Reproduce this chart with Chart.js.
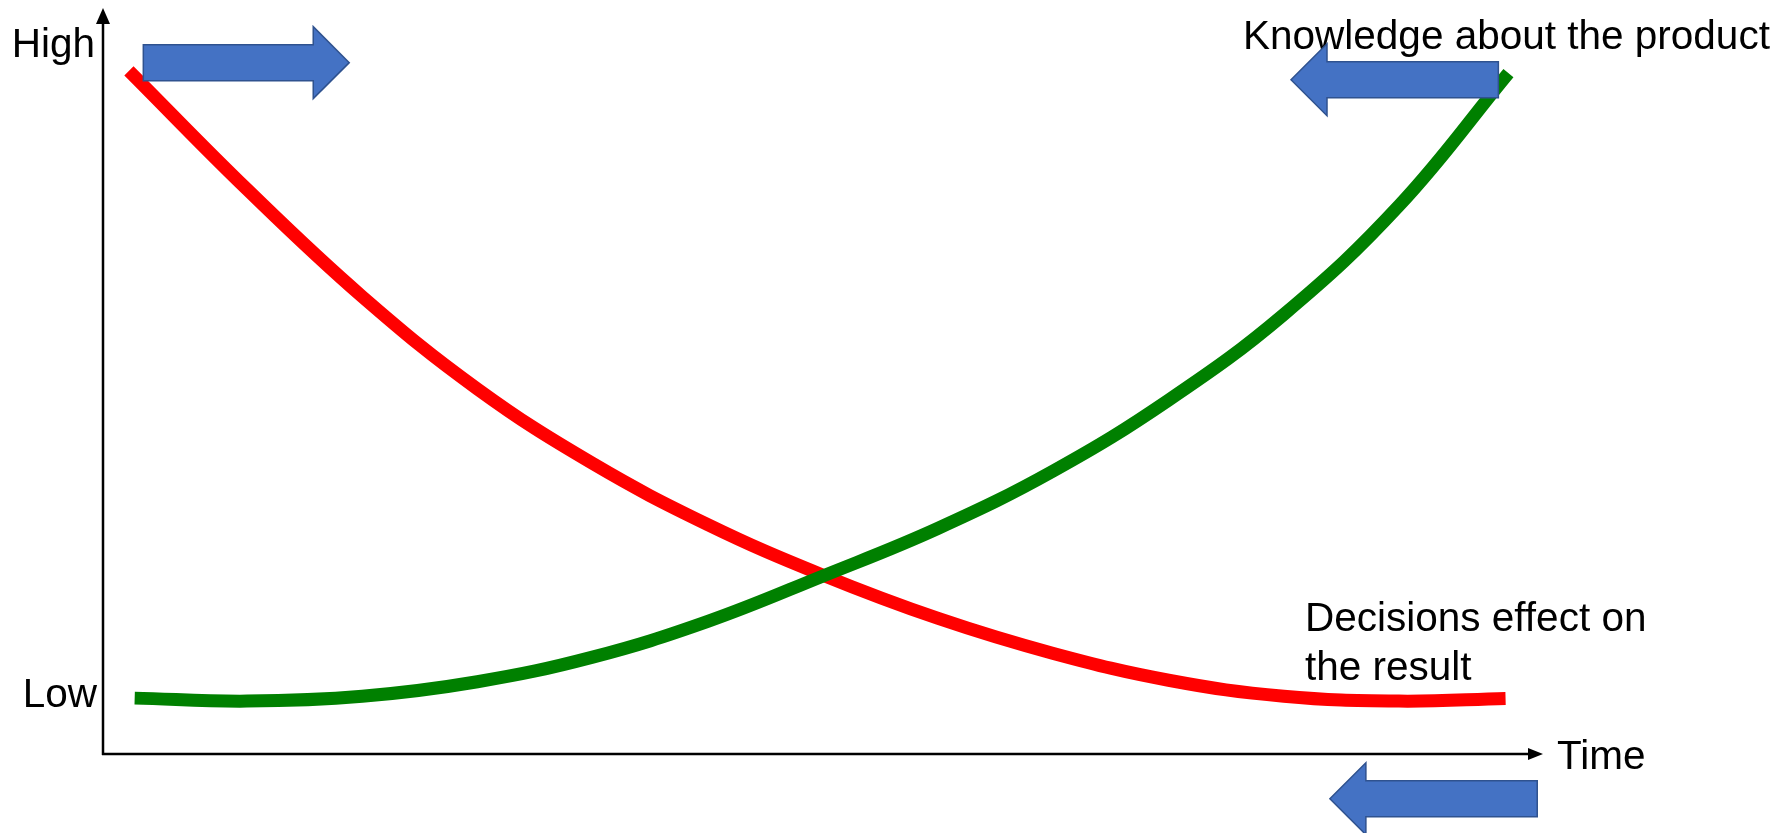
<!DOCTYPE html>
<html>
<head>
<meta charset="utf-8">
<script src="https://cdn.jsdelivr.net/npm/chart.js@4"></script>
<style>
    html, body { margin: 0; padding: 0; background: #fff; }
    #wrap { width: 1788px; height: 833px; position: relative; }
</style>
</head>
<body>
<div id="wrap"><canvas id="chart"></canvas></div>
<script>
// Knowledge about the product (green)
const knowledgeTime  = [2.2, 10, 18, 26, 34, 42, 50, 58, 66, 74, 82, 90, 97.6];
const knowledgeLevel = [7.5, 7.1, 7.75, 9.7, 13.0, 17.8, 23.9, 30.3, 38.0, 47.5, 59.0, 73.6, 91.4];

// Decisions effect on the result (red)
const decisionTime  = [1.8, 10, 18, 26, 34, 42, 50, 58, 66, 74, 82, 90, 97.4];
const decisionLevel = [91.7, 75.8, 61.4, 49.0, 39.0, 30.8, 24.0, 18.2, 13.5, 9.9, 7.75, 7.1, 7.45];

// Block arrows: tail x, tip x, level (in axis units)
const arrows = [
    { from: 2.8, to: 17.1, level: 92.8 },
    { from: 96.9, to: 82.5, level: 90.5 },
    { from: 99.6, to: 85.2, level: -6.0 }
];

const FONT = '40.5px "Liberation Sans", Arial, sans-serif';

const toPoints = (xs, ys) => xs.map((x, i) => ({ x: x, y: ys[i] }));

// axes with arrow heads, labels and the blue block arrows
const decorPlugin = {
    id: 'decor',
    afterDraw(chart) {
        const ctx = chart.ctx;
        const area = chart.chartArea;
        const xs = chart.scales.x;
        const ys = chart.scales.y;

        ctx.save();
        ctx.strokeStyle = '#000';
        ctx.fillStyle = '#000';
        ctx.lineWidth = 2.5;

        // y axis
        ctx.beginPath();
        ctx.moveTo(area.left, area.bottom + 1);
        ctx.lineTo(area.left, area.top + 10);
        ctx.stroke();
        ctx.beginPath();
        ctx.moveTo(area.left, area.top - 1);
        ctx.lineTo(area.left - 7, area.top + 15);
        ctx.lineTo(area.left + 7, area.top + 15);
        ctx.closePath();
        ctx.fill();

        // x axis
        ctx.beginPath();
        ctx.moveTo(area.left - 1, area.bottom);
        ctx.lineTo(area.right - 10, area.bottom);
        ctx.stroke();
        ctx.beginPath();
        ctx.moveTo(area.right, area.bottom);
        ctx.lineTo(area.right - 15, area.bottom - 6);
        ctx.lineTo(area.right - 15, area.bottom + 6);
        ctx.closePath();
        ctx.fill();

        // labels
        ctx.font = FONT;
        ctx.textBaseline = 'alphabetic';
        ctx.textAlign = 'right';
        ctx.fillText('High', area.left - 8, 57);
        ctx.fillText('Low', area.left - 6, 707);
        ctx.textAlign = 'left';
        ctx.fillText('Time', area.right + 14, area.bottom + 15);
        ctx.fillText('Knowledge about the product', 1243, 49);
        ctx.fillText('Decisions effect on', 1305, 631);
        ctx.fillText('the result', 1305, 680);

        // block arrows
        arrows.forEach(a => {
            const x0 = xs.getPixelForValue(a.from);
            const x1 = xs.getPixelForValue(a.to);
            const y = ys.getPixelForValue(a.level);
            const dir = x1 > x0 ? 1 : -1;
            const headLen = 36, body = 18, head = 36;
            const xb = x1 - dir * headLen;
            ctx.beginPath();
            ctx.moveTo(x0, y - body);
            ctx.lineTo(xb, y - body);
            ctx.lineTo(xb, y - head);
            ctx.lineTo(x1, y);
            ctx.lineTo(xb, y + head);
            ctx.lineTo(xb, y + body);
            ctx.lineTo(x0, y + body);
            ctx.closePath();
            ctx.fillStyle = '#4472C4';
            ctx.fill();
            ctx.lineWidth = 1.5;
            ctx.strokeStyle = '#2F528F';
            ctx.stroke();
        });
        ctx.restore();
    }
};

new Chart(document.getElementById('chart'), {
    type: 'line',
    data: {
        datasets: [
            {
                label: 'Knowledge about the product',
                data: toPoints(knowledgeTime, knowledgeLevel),
                borderColor: '#008000',
                borderWidth: 13,
                pointRadius: 0,
                tension: 0.4,
                borderCapStyle: 'butt'
            },
            {
                label: 'Decisions effect on the result',
                data: toPoints(decisionTime, decisionLevel),
                borderColor: '#FF0000',
                borderWidth: 13,
                pointRadius: 0,
                tension: 0.4,
                borderCapStyle: 'butt'
            }
        ]
    },
    options: {
        responsive: true,
        maintainAspectRatio: false,
        animation: false,
        layout: {
            padding: { left: 103, right: 245, top: 9, bottom: 79 }
        },
        plugins: {
            legend: { display: false },
            tooltip: { enabled: false }
        },
        scales: {
            x: { type: 'linear', min: 0, max: 100, display: false },
            y: { type: 'linear', min: 0, max: 100, display: false }
        }
    },
    plugins: [decorPlugin]
});
</script>
</body>
</html>
